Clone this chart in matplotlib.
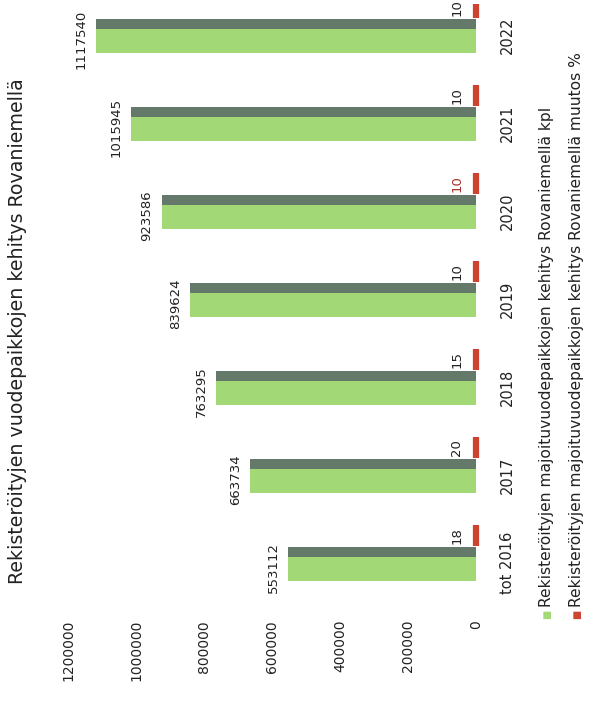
import matplotlib.pyplot as plt
import numpy as np

# Tiedot
vuodet = ["tot 2016", "2017", "2018", "2019", "2020", "2021", "2022"]
vuodepaikat = [553112, 663734, 763295, 839624, 923586, 1015945, 1117540]
muutos = [18, 20, 15, 10, 10, 10, 10]
arvot_akseli = [0, 200000, 400000, 600000, 800000, 1000000, 1200000]

otsikko = "Rekisteröityjen vuodepaikkojen kehitys Rovaniemellä"
selite_kpl = "Rekisteröityjen majoituvuodepaikkojen kehitys Rovaniemellä kpl"
selite_pros = "Rekisteröityjen majoituvuodepaikkojen kehitys Rovaniemellä muutos %"

vihrea = "#a3d877"
tumma = "#65796a"
punainen = "#cc4430"
teksti = "#222222"

plt.rcParams['font.family'] = ['DejaVu Sans']

fig = plt.figure(figsize=(5.98, 7.08), dpi=100)
ax = fig.add_axes([0.0853, 0.1302, 0.7274, 0.8638])

y = np.arange(len(vuodet))

# vihreä pylväs + tumma "3D" yläreuna
ax.barh(y - 0.07, vuodepaikat, height=0.27, color=vihrea, edgecolor="none")
ax.barh(y + 0.125, vuodepaikat, height=0.11, color=tumma, edgecolor="none")
# muutos % (hyvin pieni samalla asteikolla, näkyy ohuena suikaleena)
ax.barh(y + 0.31, muutos, height=0.24, color=punainen, edgecolor=punainen, linewidth=4.5)

for i, v in enumerate(vuodepaikat):
    ax.annotate(str(v), (v, i - 0.05), xytext=(-6, 0), textcoords="offset points",
                rotation=90, ha="right", va="center", fontsize=9.5, color=teksti)

for i, m in enumerate(muutos):
    vari = "#a5322a" if vuodet[i] == "2020" else teksti
    ax.annotate(str(m), (m, i + 0.31), xytext=(-9, 0), textcoords="offset points",
                rotation=90, ha="right", va="center", fontsize=9.5, color=vari)

ax.set_xlim(1250000, -30000)
ax.set_ylim(-0.6, 6.35)

ax.set_xticks(arvot_akseli)
ax.set_xticklabels([str(a) for a in arvot_akseli], rotation=90, fontsize=10, color=teksti)
ax.set_yticks(y)
ax.set_yticklabels(vuodet, rotation=90, fontsize=10.5, color=teksti, va="center")
ax.yaxis.tick_right()
ax.tick_params(axis="x", length=0, pad=3)
ax.tick_params(axis="y", length=0, pad=10)

for s in ax.spines.values():
    s.set_visible(False)

# otsikko
fig.text(18 / 598, 1 - 331 / 708, otsikko, rotation=90, ha="center", va="center",
         fontsize=13.7, color=teksti)

# selite
for xp, teksti_s, vari in [(547, selite_kpl, vihrea), (577, selite_pros, punainen)]:
    fig.text(xp / 598, 1 - 619 / 708, "■", rotation=90, ha="center", va="bottom",
             fontsize=7, color=vari)
    fig.text(xp / 598, 1 - 607 / 708, teksti_s, rotation=90, ha="center", va="bottom",
             fontsize=11.2, color=teksti)

fig.savefig("out.png", dpi=100)
